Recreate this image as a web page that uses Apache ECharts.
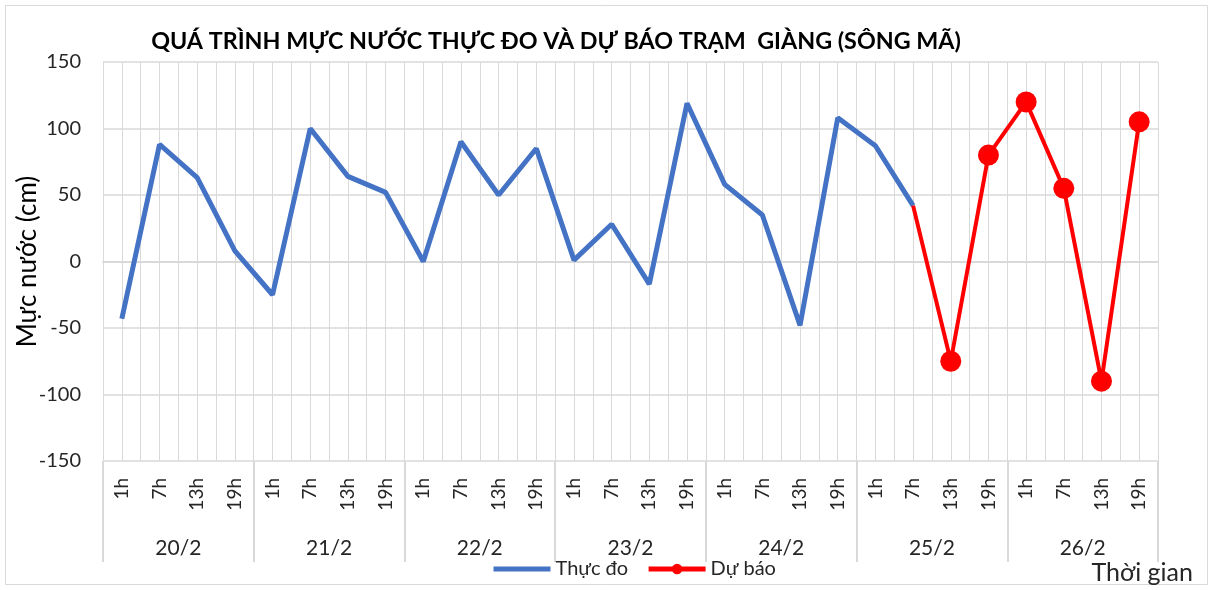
<!DOCTYPE html>
<html>
<head>
<meta charset="utf-8">
<script src="https://cdn.jsdelivr.net/npm/echarts@6/dist/echarts.min.js"></script>
<style>
  html, body { margin: 0; padding: 0; background: #fff; }
  #chart { width: 1213px; height: 590px; }
</style>
</head>
<body>
<div id="chart"></div>
<script>
// danh mục trục hoành: 7 ngày x 4 giờ
const days = ['20/2', '21/2', '22/2', '23/2', '24/2', '25/2', '26/2']
const hours = ['1h', '7h', '13h', '19h']
const categories = days.flatMap(() => hours)

// mực nước thực đo (cm)
const observed = [-43, 88, 63, 8, -25, 100, 64, 52, 0, 90, 50, 85, 1, 28, -17, 119, 58, 35, -48, 108, 87, 42]
// mực nước dự báo (cm), bắt đầu từ điểm thực đo cuối
const forecastStart = 21
const forecast = [42, -75, 80, 120, 55, -90, 105]

const yTicks = { min: -150, max: 150, interval: 50 }

const FONT = 'Lato, "Open Sans", sans-serif'
const GRID_COLOR = '#d9d9d9'
const TEXT_COLOR = '#262626'

const observedData = categories.map((_, i) => (i < observed.length ? observed[i] : null))
const forecastData = categories.map((_, i) => {
  const k = i - forecastStart
  if (k < 0 || k >= forecast.length) return null
  return k === 0 ? { value: forecast[k], symbol: 'none' } : forecast[k]
})
// trục phụ để vẽ lưới dọc mỗi nửa khoảng
const halfSlots = categories.flatMap((c) => [c + 'a', c + 'b'])

const chart = echarts.init(document.getElementById('chart'))
chart.setOption({
  animation: false,
  backgroundColor: '#fff',
  textStyle: { fontFamily: FONT },
  title: {
    text: 'QUÁ TRÌNH MỰC NƯỚC THỰC ĐO VÀ DỰ BÁO TRẠM  GIÀNG (SÔNG MÃ)',
    left: 551,
    textAlign: 'center',
    top: 25,
    textStyle: { fontSize: 23.3, fontWeight: 'bold', color: '#000', fontFamily: FONT },
  },
  legend: {
    bottom: 6,
    left: 486,
    itemWidth: 57,
    itemHeight: 13,
    itemGap: 18,
    textStyle: { fontSize: 20, color: TEXT_COLOR, fontFamily: FONT },
    data: [
      { name: 'Thực đo', itemStyle: { opacity: 0 }, lineStyle: { width: 5 } },
      { name: 'Dự báo', lineStyle: { width: 5 } },
    ],
  },
  graphic: [
    {
      type: 'rect',
      shape: { x: 5.5, y: 5.5, width: 1202, height: 579 },
      style: { fill: 'none', stroke: '#d9d9d9', lineWidth: 1 },
      silent: true,
    },
    {
      type: 'text',
      right: 20,
      bottom: 5,
      style: { text: 'Thời gian', fontSize: 25, fill: TEXT_COLOR, fontFamily: FONT },
    },
  ],
  grid: { left: 103, right: 55, top: 62, bottom: 129, outerBoundsMode: 'none' },
  xAxis: [
    {
      type: 'category',
      data: categories,
      boundaryGap: true,
      axisLine: { lineStyle: { color: GRID_COLOR, width: 2 } },
      axisTick: { show: false },
      axisLabel: { interval: 0, rotate: 90, margin: 17, fontSize: 19, color: TEXT_COLOR, fontFamily: FONT },
      splitLine: { show: false },
    },
    {
      type: 'category',
      data: days,
      position: 'bottom',
      boundaryGap: true,
      axisLine: { show: false },
      axisTick: { show: true, interval: 0, length: 101, inside: false, lineStyle: { color: GRID_COLOR, width: 2 } },
      axisLabel: { interval: 0, margin: 77, fontSize: 21, color: TEXT_COLOR, fontFamily: FONT },
      splitLine: { show: false },
    },
    {
      type: 'category',
      data: halfSlots,
      position: 'top',
      boundaryGap: true,
      axisLine: { show: false },
      axisTick: { show: false },
      axisLabel: { show: false },
      splitLine: { show: true, interval: 0, lineStyle: { color: GRID_COLOR, width: 1 } },
    },
  ],
  yAxis: {
    type: 'value',
    min: yTicks.min,
    max: yTicks.max,
    interval: yTicks.interval,
    name: 'Mực nước (cm)',
    nameLocation: 'middle',
    nameGap: 62,
    nameMoveOverlap: false,
    nameRotate: 90,
    nameTextStyle: { fontSize: 26, color: '#000', fontFamily: FONT },
    axisLine: { show: false },
    axisTick: { show: false },
    axisLabel: { fontSize: 20, color: TEXT_COLOR, margin: 22, fontFamily: FONT },
    splitLine: { lineStyle: { color: GRID_COLOR, width: 1.5 } },
  },
  series: [
    {
      name: 'Thực đo',
      type: 'line',
      data: observedData,
      symbol: 'none',
      lineStyle: { color: '#4472C4', width: 5 },
      itemStyle: { color: '#4472C4' },
      z: 3,
    },
    {
      name: 'Dự báo',
      type: 'line',
      data: forecastData,
      symbol: 'circle',
      symbolSize: 21,
      lineStyle: { color: '#FF0000', width: 4 },
      itemStyle: { color: '#FF0000' },
      z: 4,
    },
  ],
})
</script>
</body>
</html>
